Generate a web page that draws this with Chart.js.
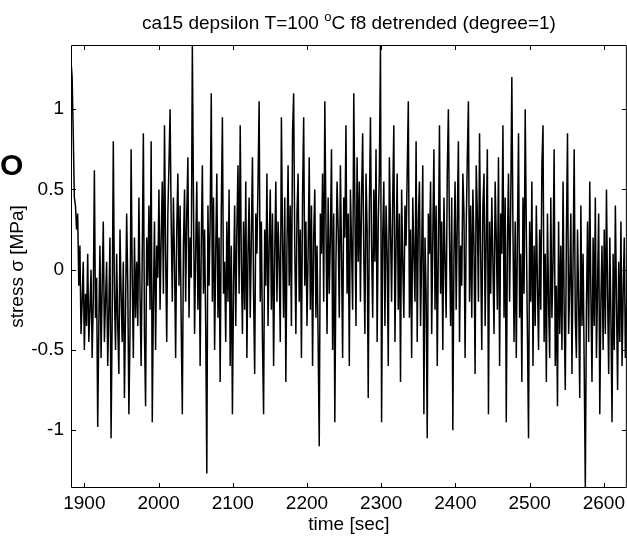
<!DOCTYPE html>
<html>
<head>
<meta charset="utf-8">
<script src="https://cdn.jsdelivr.net/npm/chart.js@4/dist/chart.umd.min.js"></script>
<style>
html, body { margin: 0; padding: 0; overflow: hidden; background: #fff; }
</style>
</head>
<body>
<canvas id="chart" width="629" height="539"></canvas>
<script>
// evenly sampled signal: time of sample i = sampleStart + i * sampleStep
const sampleStart = 1882;
const sampleStep = 1.5;

// detrended stress [MPa] (one row = 30 s)
const stress = [
    1.30, 1.20, 0.85, 0.45, 0.40, 0.25, 0.35, -0.10, 0.15, -0.40, -0.20, 0.05, -0.50, -0.15, -0.35, 0.10, -0.45, -0.25, 0.00, -0.55,
    -0.20, 0.62, -0.30, -0.05, -0.98, -0.35, 0.15, -0.55, -0.10, 0.30, -0.45, -0.20, 0.05, -0.60, -0.25, 0.20, -1.05, -0.30, 0.80, -0.15,
    -0.50, 0.10, -0.35, -0.65, 0.25, -0.15, -0.45, 0.05, -0.80, -0.25, 0.35, -0.10, -0.90, -0.40, 0.75, -0.05, -0.55, 0.20, -0.30, 0.05,
    -0.35, 0.45, -0.15, -0.60, 0.10, 0.85, -0.40, -0.85, 0.20, -0.10, 0.40, -0.25, 0.80, -0.95, -0.20, 0.30, -0.50, 0.15, -0.05, 0.50,
    -0.25, 0.20, 0.55, -0.15, 0.90, 0.10, -0.45, 0.35, 0.65, 1.00, 0.30, -0.20, 0.45, 0.05, -0.55, 0.25, 0.60, -0.10, 0.40, -0.35,
    -0.90, 0.15, 0.50, -0.20, 0.35, 0.70, -0.30, 0.20, -0.05, 1.40, 0.45, -0.40, 0.10, 0.55, -0.25, 0.30, -0.60, 0.15, 0.65, -0.15,
    0.25, -0.35, -1.27, 0.40, -0.10, 0.30, 1.10, -0.20, 0.45, -0.50, 0.10, 0.60, -0.30, 0.20, -0.70, 0.35, 0.95, -0.15, 0.05, -0.45,
    0.30, -0.20, 0.50, -0.60, 0.15, -0.90, -0.10, 0.40, -0.35, 0.25, 0.65, -0.15, 0.90, 0.05, -0.40, 0.30, -0.25, 0.55, -0.55, 0.10,
    0.45, -0.30, 0.20, 0.70, -0.15, -0.65, 0.35, 0.10, 0.55, 1.05, -0.20, 0.30, -0.45, -0.90, 0.25, -0.10, 0.60, -0.35, 0.15, 0.50,
    -0.25, 0.35, -0.60, 0.10, 0.55, -0.20, 0.30, 0.05, -0.45, 0.95, 0.20, -0.30, 0.45, -0.70, 0.15, 0.65, -0.10, 0.40, -0.35, 0.85,
    1.10, 0.15, -0.40, 0.35, 0.60, -0.20, 0.25, -0.55, 0.45, 0.95, -0.10, 0.30, -0.35, 0.10, 0.70, -0.25, 0.40, -0.60, 0.20, 0.50,
    -0.30, 0.15, -0.45, -1.10, 0.35, 0.10, 0.60, -0.20, 1.05, 0.30, -0.40, 0.45, -0.15, 0.20, 0.75, -0.50, 0.35, -0.95, 0.05, 0.55,
    0.25, -0.30, 0.65, 0.10, -0.55, 0.45, 0.20, 0.90, -0.15, 0.35, -0.60, 0.50, 0.15, -0.25, 1.10, 0.40, -0.35, 0.70, 0.05, 0.55,
    -0.20, 0.45, 0.85, 0.10, -0.40, 0.60, 0.25, -0.80, 0.35, 0.95, 0.15, -0.30, 0.50, 0.05, 0.75, -0.45, 0.30, 0.60, 1.40, -0.95,
    0.20, 0.55, -0.35, 0.40, 0.10, -0.60, 0.70, 0.25, -0.20, 0.45, 0.90, -0.45, 0.15, 0.60, -0.25, 0.35, -0.70, 0.50, 0.05, -0.30,
    0.40, 0.15, 0.60, 1.05, -0.30, 0.25, -0.55, 0.45, 0.10, -0.20, 0.80, -0.45, 0.30, 0.55, -0.35, 0.10, 0.65, -0.90, 0.20, -0.15,
    -1.05, 0.35, 0.10, 0.55, -0.40, 0.20, 0.75, -0.25, 0.40, -0.60, 0.15, 0.90, -0.15, 0.30, -0.50, 0.45, 0.05, -0.30, 0.60, 1.00,
    0.20, -0.35, 0.45, -1.00, 0.10, 0.55, -0.25, 0.30, 0.80, -0.45, 0.15, -0.10, 0.60, 0.35, -0.55, 0.25, 0.70, 1.05, -0.20, 0.40,
    -0.30, 0.50, 0.15, -0.65, 0.65, 0.35, -0.20, 0.85, 0.10, -0.50, 0.40, 0.60, -0.35, 0.20, 0.75, -0.90, 0.30, -0.15, 0.45, 0.05,
    -0.40, 0.55, 0.20, -0.25, 0.70, -0.60, 0.35, 0.10, 0.90, -0.30, 0.45, -0.95, 0.15, 0.60, -0.20, 0.40, 1.20, 0.25, -0.45, 0.30,
    -0.55, 0.20, 0.85, -0.30, 0.10, -0.70, 0.45, -0.15, 1.00, 0.25, -0.40, -1.05, 0.30, -0.20, 0.55, -0.60, 0.15, -0.35, 0.40, -0.10,
    -0.50, 0.25, -0.25, 0.65, 0.90, -0.45, 0.10, -0.70, 0.35, -0.20, -0.55, 0.45, -0.30, 0.05, 0.75, -0.60, -0.10, -0.85, 0.30, -0.40,
    0.15, -0.50, 0.55, -0.25, -0.75, 0.20, 0.85, -0.40, -0.10, 0.35, -0.65, 0.05, 0.75, -0.30, -0.55, 0.25, -0.20, -0.80, 0.40, -0.35,
    0.10, -0.60, -1.36, -0.25, 0.30, -0.45, 0.55, -0.15, -0.70, 0.20, -0.35, 0.45, -0.55, -0.10, 0.35, -0.90, -0.20, 0.15, -0.50, 0.25,
    -0.40, 0.50, -0.15, -0.65, 0.20, -0.30, -0.95, 0.10, -0.50, 0.40, -0.20, -0.75, 0.05, -0.45, 0.30, -0.60, -0.15, 0.20, -0.55, -0.25,
    0.10
];

const xTicks = [1900, 2000, 2100, 2200, 2300, 2400, 2500, 2600];
const yTicks = [-1, -0.5, 0, 0.5, 1];

const FONT = '"Liberation Sans", Arial, Helvetica, sans-serif';
const tickFont = { family: FONT, size: 19 };

const points = stress.map((v, i) => ({ x: sampleStart + i * sampleStep, y: v }));

// MATLAB style box with inward ticks, title with superscript, stray "O"
const matlabAxes = {
    id: 'matlabAxes',
    afterDatasetsDraw(chart) {
        const { ctx, chartArea: a, scales } = chart;
        const tl = 5;
        ctx.save();
        ctx.strokeStyle = '#000';
        ctx.lineWidth = 1;
        ctx.beginPath();
        ctx.rect(a.left + 0.5, a.top + 0.5, a.right - a.left - 1, a.bottom - a.top - 1);
        xTicks.forEach(v => {
            const x = Math.round(scales.x.getPixelForValue(v)) + 0.5;
            ctx.moveTo(x, a.bottom); ctx.lineTo(x, a.bottom - tl);
            ctx.moveTo(x, a.top); ctx.lineTo(x, a.top + tl);
        });
        yTicks.forEach(v => {
            const y = Math.round(scales.y.getPixelForValue(v)) + 0.5;
            ctx.moveTo(a.left, y); ctx.lineTo(a.left + tl, y);
            ctx.moveTo(a.right, y); ctx.lineTo(a.right - tl, y);
        });
        ctx.stroke();
        ctx.restore();
    },
    afterDraw(chart) {
        const { ctx, chartArea: a } = chart;
        ctx.save();
        ctx.fillStyle = '#000';
        ctx.textBaseline = 'alphabetic';
        ctx.textAlign = 'left';
        const p1 = 'ca15 depsilon T=100 ', sup = 'o', p2 = 'C f8 detrended (degree=1)';
        const mainFont = '19px ' + FONT, supFont = '13px ' + FONT;
        ctx.font = mainFont;
        const w1 = ctx.measureText(p1).width, w2 = ctx.measureText(p2).width;
        ctx.font = supFont;
        const ws = ctx.measureText(sup).width;
        let x = (a.left + a.right) / 2 - (w1 + ws + w2) / 2;
        const base = 29;
        ctx.font = mainFont;
        ctx.fillText(p1, x, base); x += w1;
        ctx.font = supFont;
        ctx.fillText(sup, x, base - 8); x += ws;
        ctx.font = mainFont;
        ctx.fillText(p2, x, base);

        ctx.font = 'bold 30px ' + FONT;
        ctx.fillText('O', 0, 175);
        ctx.restore();
    }
};

new Chart(document.getElementById('chart').getContext('2d'), {
    type: 'line',
    data: {
        datasets: [{
            data: points,
            borderColor: '#000',
            borderWidth: 1.5,
            pointRadius: 0,
            tension: 0,
            fill: false
        }]
    },
    options: {
        responsive: false,
        animation: false,
        layout: { padding: { top: 45, left: 0, right: 0, bottom: 0 } },
        plugins: { legend: { display: false }, tooltip: { enabled: false } },
        scales: {
            x: {
                type: 'linear',
                min: 1882,
                max: 2631,
                grid: { display: false, drawTicks: false },
                border: { display: false },
                afterBuildTicks: s => { s.ticks = xTicks.map(v => ({ value: v })); },
                afterFit: s => { s.height = 51; },
                ticks: { font: tickFont, color: '#000', padding: 4, maxRotation: 0, autoSkip: false, callback: v => String(v) },
                title: { display: true, text: 'time [sec]', font: tickFont, color: '#000', padding: { top: 0, bottom: 3 } }
            },
            y: {
                type: 'linear',
                min: -1.36,
                max: 1.40,
                grid: { display: false, drawTicks: false },
                border: { display: false },
                afterBuildTicks: s => { s.ticks = yTicks.map(v => ({ value: v })); },
                afterFit: s => { s.width = 71; },
                ticks: { font: tickFont, color: '#000', padding: 7, autoSkip: false, callback: v => String(v) },
                title: { display: true, text: 'stress σ [MPa]', font: tickFont, color: '#000', padding: { top: 6, bottom: 0 } }
            }
        }
    },
    plugins: [matlabAxes]
});
</script>
</body>
</html>
